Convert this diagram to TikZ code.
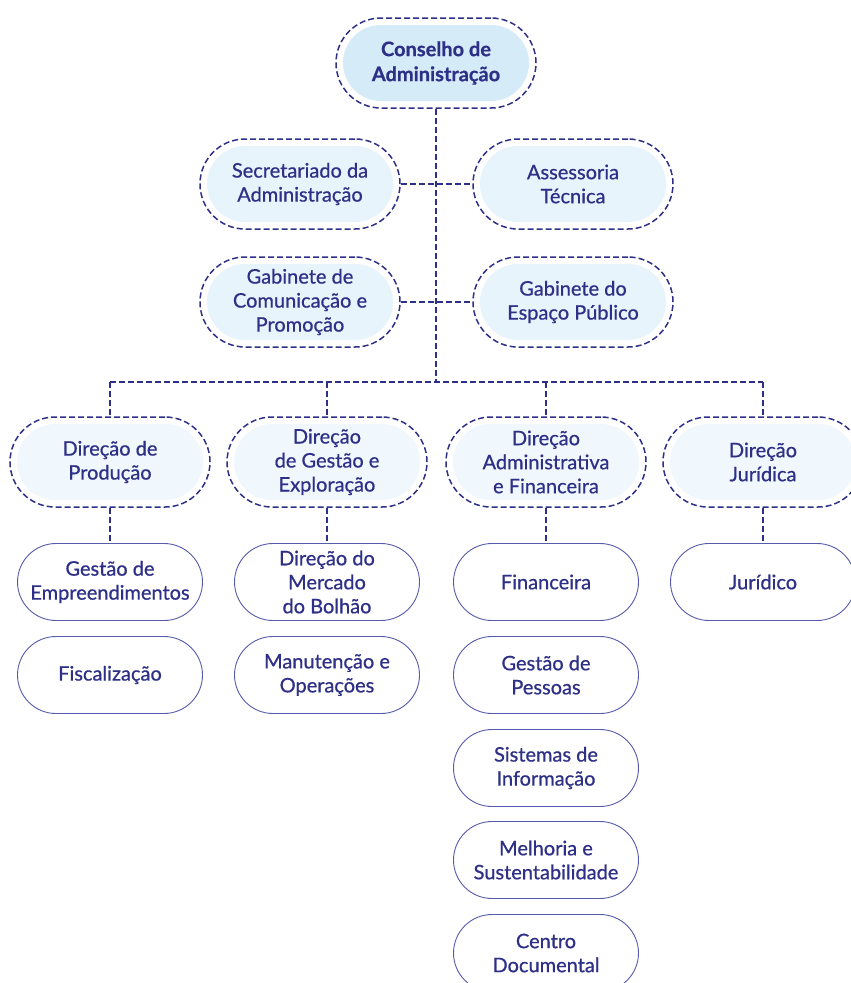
\documentclass[tikz,border=0pt]{standalone}
\usepackage{fontspec}
\setmainfont{Lato}[FakeBold=0.7]
\usetikzlibrary{positioning}
\definecolor{navy}{HTML}{2E3087}
\definecolor{edge}{HTML}{565AAA}
\definecolor{topfill}{HTML}{D5EBF8}
\definecolor{midfill}{HTML}{E8F4FC}
\definecolor{dirfill}{HTML}{F0F8FD}
\tikzset{
  dashbox/.style={draw=navy, dash pattern=on 6pt off 3pt, line width=1.5pt, fill=white,
    minimum width=200pt, minimum height=90pt, rounded corners=45pt, inner sep=1pt,
    align=center, text=navy, font=\fontsize{20}{24}\selectfont,
    path picture={\fill[#1, rounded corners=38pt]
      ([shift={(7pt,-7pt)}]path picture bounding box.north west) rectangle
      ([shift={(-7pt,7pt)}]path picture bounding box.south east);}},
  unitbox/.style={draw=edge, line width=0.9pt, fill=white,
    minimum width=185pt, minimum height=77pt, rounded corners=38.5pt, inner sep=1pt,
    align=center, text=navy, font=\fontsize{20}{24}\selectfont},
  link/.style={draw=navy, dash pattern=on 6pt off 3pt, line width=1.5pt}
}
\begin{document}
\begin{tikzpicture}[x=1pt,y=-1pt]
\useasboundingbox (0,0) rectangle (851,983);
% top
\node[dashbox=topfill, font=\fontsize{20}{25}\selectfont\bfseries] (conselho) at (436,63) {Conselho de\\Administração};
\node[dashbox=midfill] (secretariado) at (300,184) {Secretariado da\\Administração};
\node[dashbox=midfill] (assessoria) at (573,184) {Assessoria\\Técnica};
\node[dashbox=midfill] (comunicacao) at (300,302) {Gabinete de\\Comunicação e\\Promoção};
\node[dashbox=midfill] (espaco) at (573,302) {Gabinete do\\Espaço Público};
\coordinate (bus) at (436,382);
\draw[link] (conselho) -- (bus);
\draw[link] (secretariado) -- (assessoria);
\draw[link] (comunicacao) -- (espaco);
% direcoes
\foreach \name/\x/\txt in {producao/110/{Direção de\\Produção},
    gestao/327/{Direção\\de Gestão e\\Exploração},
    admin/546/{Direção\\Administrativa\\e Financeira},
    juridica/763/{Direção\\Jurídica}}
{
\node[dashbox=dirfill] (\name) at (\x,462) {\txt};
\coordinate (\name-bus) at (\x,382);
\draw[link] (\name-bus) -- (\name);
}
\draw[link] (producao-bus) -- (juridica-bus);
% servicos
\node[unitbox] (empreend) at (110,582) {Gestão de\\Empreendimentos};
\node[unitbox] (fiscal) at (110,675) {Fiscalização};
\node[unitbox] (mercado) at (327,582) {Direção do\\Mercado\\do Bolhão};
\node[unitbox] (manut) at (327,675) {Manutenção e\\Operações};
\node[unitbox] (financeira) at (546,582) {Financeira};
\node[unitbox] (pessoas) at (546,675) {Gestão de\\Pessoas};
\node[unitbox] (sistemas) at (546,768) {Sistemas de\\Informação};
\node[unitbox] (melhoria) at (546,860) {Melhoria e\\Sustentabilidade};
\node[unitbox] (centro) at (546,953) {Centro\\Documental};
\node[unitbox] (juridico) at (763,582) {Jurídico};
\foreach \a/\b in {producao/empreend, gestao/mercado, admin/financeira, juridica/juridico}
\draw[link] (\a) -- (\b);
\end{tikzpicture}
\end{document}
